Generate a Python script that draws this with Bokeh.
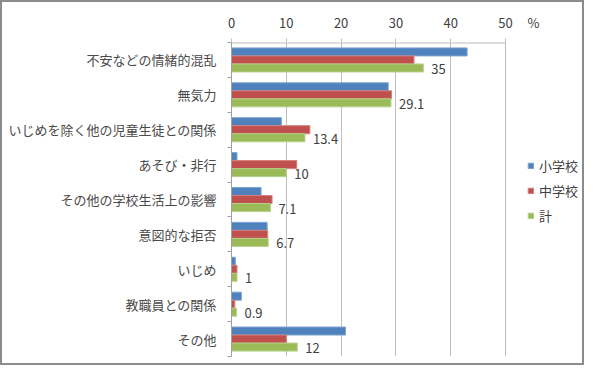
from bokeh.plotting import figure
from bokeh.models import (Range1d, FixedTicker, ColumnDataSource, Legend, LegendItem,
                          CustomJSTickFormatter)
from bokeh.core.properties import value
from bokeh.embed import file_html
from bokeh.resources import INLINE

categories = ["不安などの情緒的混乱", "無気力", "いじめを除く他の児童生徒との関係", "あそび・非行",
              "その他の学校生活上の影響", "意図的な拒否", "いじめ", "教職員との関係", "その他"]
elementary = [43.0, 28.6, 9.1, 1.0, 5.4, 6.5, 0.7, 1.8, 20.8]
junior = [33.3, 29.2, 14.3, 11.9, 7.4, 6.6, 1.0, 0.6, 10.0]
total = [35, 29.1, 13.4, 10, 7.1, 6.7, 1, 0.9, 12]
series_names = ["小学校", "中学校", "計"]
x_ticks = [0, 10, 20, 30, 40, 50]
unit_label = "%"

FONT = "Noto Sans CJK JP"
TXT = "#404040"
W, H = 584, 365
LEFT, TOP, BOTTOM, RIGHT = 231, 42, 9, 3
AXIS_PX = 274                     # pixels from 0 to 50
frame_w = W - LEFT - RIGHT
x_max = x_ticks[-1] * frame_w / AXIS_PX
pct_x = x_ticks[-1] + 28 * x_ticks[-1] / AXIS_PX

n = len(categories)
bar_h = 0.23
centers = [i + 0.5 for i in range(n)]

p = figure(width=W, height=H, output_backend="svg", toolbar_location=None,
           x_range=Range1d(0, x_max), y_range=Range1d(n, 0), x_axis_location="above",
           min_border_left=LEFT, min_border_right=RIGHT, min_border_top=TOP,
           min_border_bottom=BOTTOM)
p.outline_line_color = None
p.background_fill_color = "white"
p.border_fill_color = None
p.styles = {"box-shadow": "inset 0 0 0 2px #8C8C8C", "background-color": "white"}

colors = ["#4F81BD", "#C0504D", "#9BBB59"]
edges = ["#7FA3D3", "#D57E7C", "#B6D08A"]
offsets = [-bar_h, 0.0, bar_h]
renderers = []
for vals, c, e, off in zip([elementary, junior, total], colors, edges, offsets):
    src = ColumnDataSource(dict(y=[cy + off for cy in centers], right=vals))
    r = p.hbar(y="y", left=0, right="right", height=bar_h, source=src,
               fill_color=c, line_color=e, line_width=1)
    renderers.append(r)

lab_src = ColumnDataSource(dict(x=total, y=[cy + bar_h for cy in centers],
                                t=[f"{v:g}" for v in total]))
p.text(x="x", y="y", text="t", source=lab_src, x_offset=8, y_offset=1,
       text_align="left", text_baseline="middle", text_font=value(FONT),
       text_font_size="13px", text_color=TXT)

# x axis (top)
xa = p.xaxis[0]
xa.ticker = FixedTicker(ticks=x_ticks + [pct_x], minor_ticks=x_ticks)
xa.formatter = CustomJSTickFormatter(args=dict(lim=x_ticks[-1], unit=unit_label),
                                     code="return tick > lim ? unit : String(Math.round(tick));")
xa.axis_line_color = None
xa.major_tick_line_color = None
xa.major_tick_out = 0
xa.major_tick_in = 0
xa.minor_tick_line_color = "#BEBEBE"
xa.minor_tick_out = 4
xa.minor_tick_in = 0
xa.major_label_standoff = 7
xa.major_label_text_font = FONT
xa.major_label_text_font_size = "13px"
xa.major_label_text_color = TXT

# top axis line from 0 to 50
p.segment(x0=[x_ticks[0]], x1=[x_ticks[-1]], y0=[0], y1=[0], line_color="#BEBEBE", line_width=2)

# y axis (left)
ya = p.yaxis[0]
ya.ticker = FixedTicker(ticks=centers, minor_ticks=list(range(n + 1)))
ya.formatter = CustomJSTickFormatter(args=dict(cats=categories),
                                     code="return cats[Math.floor(tick)];")
ya.major_tick_line_color = None
ya.major_tick_out = 0
ya.major_tick_in = 0
ya.minor_tick_line_color = "#A0A0A0"
ya.minor_tick_out = 4
ya.minor_tick_in = 0
ya.axis_line_color = "#A0A0A0"
ya.major_label_standoff = 11
ya.major_label_text_font = FONT
ya.major_label_text_font_size = "13px"
ya.major_label_text_color = "#4A4A4A"

p.xgrid.ticker = FixedTicker(ticks=x_ticks[1:])
p.xgrid.grid_line_color = "#BEBEBE"
p.ygrid.grid_line_color = None

legend = Legend(items=[LegendItem(label=nm, renderers=[r]) for nm, r in zip(series_names, renderers)],
                location=(296, 131), padding=0, margin=0, border_line_color=None,
                background_fill_alpha=0, glyph_width=7, glyph_height=7, label_standoff=5,
                spacing=5, label_height=20, label_text_font=FONT, label_text_font_size="13px",
                label_text_color=TXT)
p.add_layout(legend, "center")

open("out.html", "w").write(file_html(p, INLINE))
